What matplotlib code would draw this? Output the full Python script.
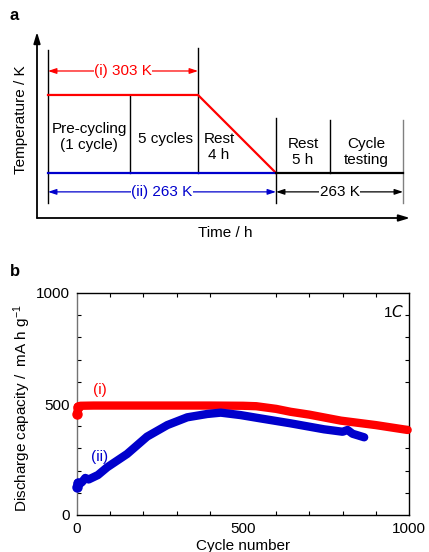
import numpy as np
import matplotlib
matplotlib.use("Agg")
import matplotlib.pyplot as plt
from matplotlib.ticker import MultipleLocator

plt.rcParams['font.family'] = ['Liberation Sans', 'DejaVu Sans']
plt.rcParams['font.size'] = 11
plt.rcParams['mathtext.default'] = 'regular'

RED = '#ff0000'
BLUE = '#0000cc'
FS = 11

# ---- panel a: temperature protocol (schematic time units) ----
stage_edges = [0, 82, 150, 228, 282, 355]
T_high = 303
T_low = 263
stage_names = ["Pre-cycling\n(1 cycle)", "5 cycles", "Rest\n4 h", "Rest\n5 h", "Cycle\ntesting"]

# ---- panel b: discharge capacity vs cycle ----
cyc_i = [1, 3, 10, 50, 100, 200, 300, 400, 500, 540, 600, 643, 700, 795, 900, 996]
cap_i = [457, 488, 492, 493, 493, 493, 493, 493, 492, 490, 478, 465, 452, 425, 405, 383]

cyc_ii = [1, 3, 8, 15, 25, 35, 63, 91, 151, 211, 272, 332, 392, 433, 493, 553, 643, 744, 800, 815, 830, 865]
cap_ii = [127, 145, 140, 148, 167, 160, 180, 215, 275, 353, 405, 440, 455, 461, 450, 435, 413, 386, 375, 383, 366, 350]

W, H = 429, 552
fig = plt.figure(figsize=(W / 100, H / 100), dpi=100)

def fx(px):
    return px / W

def fy(py):
    return 1 - py / H

# panel a
ax = fig.add_axes([fx(37), fy(218), fx(410) - fx(37), fy(32) - fy(218)])
ax.set_xlim(-11, 362)
ax.set_ylim(239.9, 335.3)
ax.axis('off')

arrow_kw = dict(arrowstyle='-|>,head_length=0.6,head_width=0.18', color='black', lw=1.3,
                shrinkA=0, shrinkB=0)
ax.annotate('', xy=(-11, 335.3), xytext=(-11, 239.9), arrowprops=arrow_kw, annotation_clip=False)
ax.annotate('', xy=(362, 239.9), xytext=(-11, 239.9), arrowprops=arrow_kw, annotation_clip=False)

vlines = [(stage_edges[0], 247.6, 326, 'black'),
          (stage_edges[1], 263, 303, 'black'),
          (stage_edges[2], 263, 327, 'black'),
          (stage_edges[3], 247.6, 291.2, 'black'),
          (stage_edges[4], 263, 290, 'black'),
          (stage_edges[5], 247.6, 290, '0.5')]
for x, y0, y1, c in vlines:
    ax.plot([x, x], [y0, y1], color=c, lw=1.0)

ax.plot([stage_edges[0], stage_edges[2], stage_edges[3]], [T_high, T_high, T_low], color=RED, lw=1.6)
ax.plot([stage_edges[0], stage_edges[3]], [T_low, T_low], color=BLUE, lw=1.6)
ax.plot([stage_edges[3], stage_edges[5]], [T_low, T_low], color='black', lw=1.6)

def dbl_arrow(x0, x1, y, text, color):
    kw = dict(arrowstyle='<|-|>,head_length=0.45,head_width=0.15', color=color, lw=0.9,
              shrinkA=0, shrinkB=0)
    ax.annotate('', xy=(x1, y), xytext=(x0, y), arrowprops=kw)
    ax.text((x0 + x1) / 2, y, text, color=color, ha='center', va='center', fontsize=FS,
            bbox=dict(facecolor='white', edgecolor='none', pad=0.3))

dbl_arrow(stage_edges[0], stage_edges[2], 315.3, "(i) 303 K", RED)
dbl_arrow(stage_edges[0], stage_edges[3], 253.3, "(ii) 263 K", BLUE)
dbl_arrow(stage_edges[3], stage_edges[5], 253.3, "263 K", 'black')

name_pos = [(41, 281.5), (117, 280.4), (171, 276.3), (255, 273.8), (318, 273.8)]
for (x, y), s in zip(name_pos, stage_names):
    ax.text(x, y, s, ha='center', va='center', fontsize=FS, linespacing=1.2)

fig.text(fx(21), fy(120), "Temperature / K", rotation=90, ha='center', va='center', fontsize=FS)
fig.text(fx(225), fy(233), "Time / h", ha='center', va='center', fontsize=FS)
fig.text(fx(10), fy(15), "a", fontweight='bold', fontsize=12, ha='left', va='center')
fig.text(fx(10), fy(272), "b", fontweight='bold', fontsize=12, ha='left', va='center')

# panel b
bx = fig.add_axes([fx(77), fy(515), fx(409) - fx(77), fy(293) - fy(515)])
bx.set_xlim(0, 1000)
bx.set_ylim(0, 1000)
for cyc, cap, col in [(cyc_i, cap_i, RED), (cyc_ii, cap_ii, BLUE)]:
    bx.plot(cyc, cap, color=col, lw=6, solid_capstyle='round', solid_joinstyle='round',
            clip_on=False, zorder=3)
    bx.plot(cyc[:2], cap[:2], 'o', color=col, ms=6.5, clip_on=False, zorder=3)
bx.xaxis.set_major_locator(MultipleLocator(500))
bx.yaxis.set_major_locator(MultipleLocator(500))
bx.xaxis.set_minor_locator(MultipleLocator(100))
bx.yaxis.set_minor_locator(MultipleLocator(100))
bx.tick_params(which='both', direction='in', top=True, right=True, labelsize=FS)
bx.tick_params(which='major', length=0, pad=5)
bx.tick_params(which='minor', length=3, width=0.8)
for sp in bx.spines.values():
    sp.set_linewidth(1.0)
bx.spines['left'].set_color('0.45')
bx.text(68, 563, "(i)", color=RED, ha='center', va='center', fontsize=FS)
bx.text(69, 262, "(ii)", color=BLUE, ha='center', va='center', fontsize=FS)
bx.text(985, 915, "1$\\it{C}$", ha='right', va='center', fontsize=FS)

fig.text(fx(22), fy(408), "Discharge capacity /  mA h g$^{-1}$", rotation=90,
         ha='center', va='center', fontsize=FS)
fig.text(fx(243), fy(546), "Cycle number", ha='center', va='center', fontsize=FS)

fig.savefig("out.png", dpi=100)
